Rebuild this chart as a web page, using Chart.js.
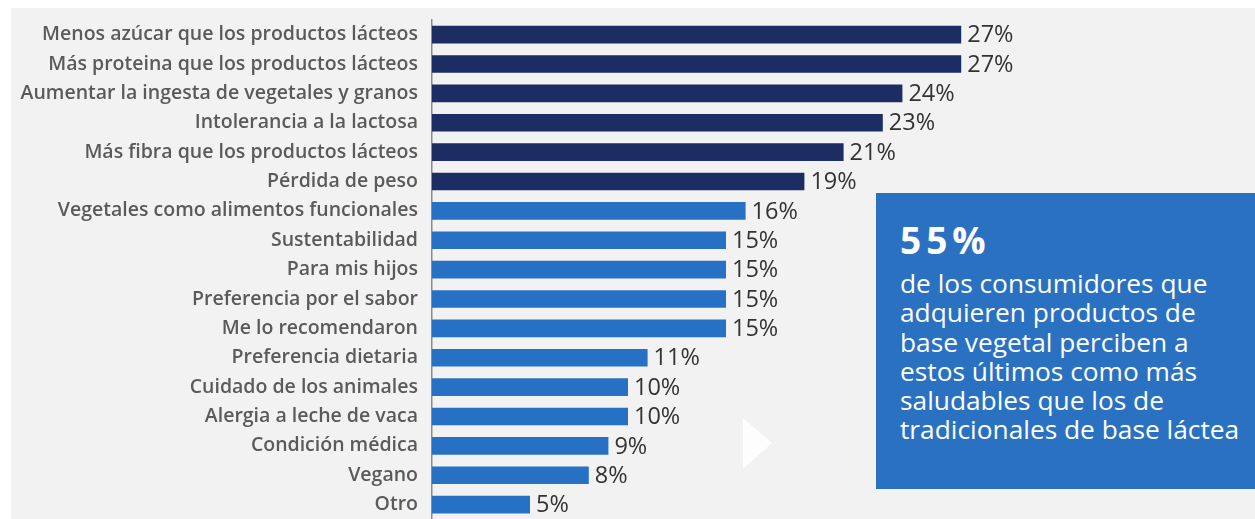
<!DOCTYPE html>
<html>
<head>
<meta charset="utf-8">
<script src="https://cdn.jsdelivr.net/npm/chart.js@4/dist/chart.umd.min.js"></script>
<style>
  html, body { margin: 0; padding: 0; background: #fff; }
  #wrap { position: relative; width: 1255px; height: 519px; overflow: hidden; background: #f2f2f2; }
  #chart { position: absolute; left: 0; top: 0; }
  #callout {
    position: absolute; left: 876px; top: 193px; width: 379px; height: 296px;
    background: #2a72c1; color: #fff; box-sizing: border-box;
    padding: 27px 0 0 24px; font-family: 'Open Sans', sans-serif;
  }
  #callout .big { font-size: 37px; font-weight: 700; letter-spacing: 5px; line-height: 40px; }
  #callout .txt { font-size: 26.3px; line-height: 29.3px; margin-top: 9px; white-space: nowrap; }
</style>
</head>
<body>
<div id="wrap">
  <canvas id="chart" width="1255" height="531"></canvas>
  <div id="callout">
    <div class="big">55%</div>
    <div class="txt">de los consumidores que<br>adquieren productos de<br>base vegetal perciben a<br>estos últimos como más<br>saludables que los de<br>tradicionales de base láctea</div>
  </div>
</div>
<script>
// ── Data ──
var LABELS = [
  'Menos azúcar que los productos lácteos',
  'Más proteina que los productos lácteos',
  'Aumentar la ingesta de vegetales y granos',
  'Intolerancia a la lactosa',
  'Más fibra que los productos lácteos',
  'Pérdida de peso',
  'Vegetales como alimentos funcionales',
  'Sustentabilidad',
  'Para mis hijos',
  'Preferencia por el sabor',
  'Me lo recomendaron',
  'Preferencia dietaria',
  'Cuidado de los animales',
  'Alergia a leche de vaca',
  'Condición médica',
  'Vegano',
  'Otro'
];
var VALUES = [27, 27, 24, 23, 21, 19, 16, 15, 15, 15, 15, 11, 10, 10, 9, 8, 5];
var TOP_GROUP = 6; // first six reasons in dark navy

var NAVY = '#1c2d63';
var BLUE = '#2771c4';

var barColors = VALUES.map(function (v, i) { return i < TOP_GROUP ? NAVY : BLUE; });

// ── Plugins ──
var backdrop = {
  id: 'backdrop',
  beforeDraw: function (chart) {
    var ctx = chart.ctx;
    ctx.save();
    ctx.fillStyle = '#ffffff';
    ctx.fillRect(0, 0, chart.width, chart.height);
    ctx.fillStyle = '#f2f2f2';
    ctx.fillRect(11, 8, chart.width - 11, chart.height - 8);
    ctx.restore();
  },
  afterDraw: function (chart) {
    // faint "play" mark in the background
    var ctx = chart.ctx;
    ctx.save();
    ctx.fillStyle = 'rgba(255,255,255,0.85)';
    ctx.beginPath();
    ctx.moveTo(743, 418);
    ctx.lineTo(772, 443);
    ctx.lineTo(743, 469);
    ctx.closePath();
    ctx.fill();
    ctx.restore();
  }
};

var valueLabels = {
  id: 'valueLabels',
  afterDatasetsDraw: function (chart) {
    var ctx = chart.ctx;
    var meta = chart.getDatasetMeta(0);
    ctx.save();
    ctx.font = '23.5px "Open Sans", sans-serif';
    ctx.fillStyle = '#333333';
    ctx.textAlign = 'left';
    ctx.textBaseline = 'middle';
    meta.data.forEach(function (bar, i) {
      ctx.fillText(VALUES[i] + '%', bar.x + 6, bar.y + 1);
    });
    ctx.restore();
  }
};

// ── Chart ──
new Chart(document.getElementById('chart').getContext('2d'), {
  type: 'bar',
  data: {
    labels: LABELS,
    datasets: [{
      data: VALUES,
      backgroundColor: barColors,
      borderWidth: 0,
      barPercentage: 0.6,
      categoryPercentage: 1
    }]
  },
  options: {
    indexAxis: 'y',
    responsive: false,
    animation: false,
    layout: { padding: { top: 20, right: 235, bottom: 0, left: 0 } },
    plugins: { legend: { display: false }, tooltip: { enabled: false } },
    scales: {
      x: { display: false, min: 0, max: 30 },
      y: {
        afterFit: function (scale) { scale.width = 432; },
        grid: { display: false, drawTicks: true, tickLength: 14, tickColor: 'rgba(0,0,0,0)' },
        border: { display: true, color: '#8a8a8a', width: 1.5 },
        ticks: {
          padding: 0,
          color: '#5a5a5a',
          font: { family: 'Open Sans', size: 19.5, weight: '600' }
        }
      }
    }
  },
  plugins: [backdrop, valueLabels]
});
</script>
</body>
</html>
